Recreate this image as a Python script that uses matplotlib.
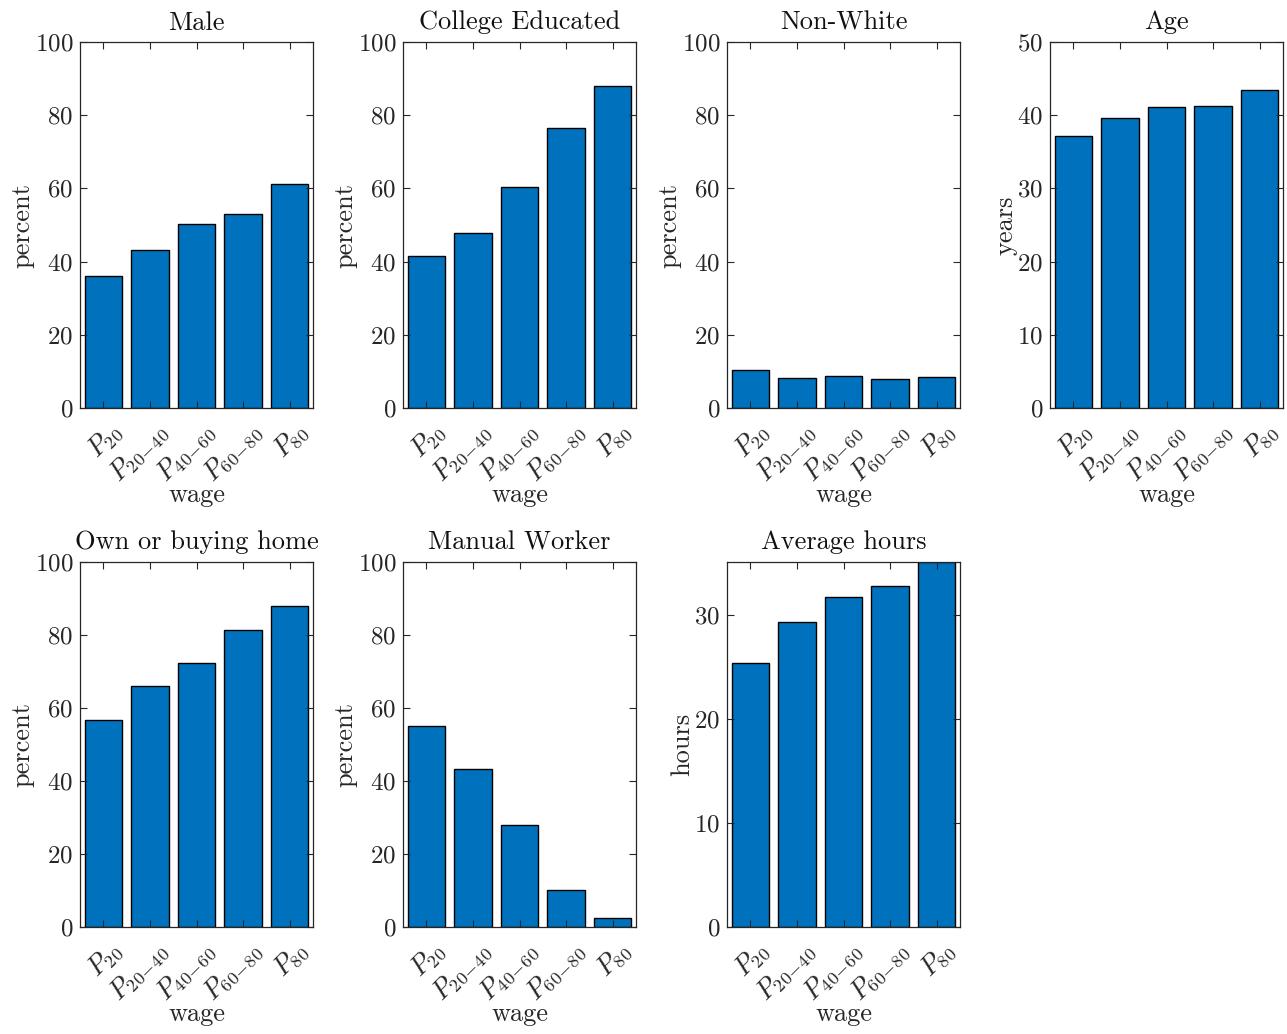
import matplotlib
matplotlib.use("Agg")
import matplotlib.pyplot as plt
import matplotlib.transforms as mtransforms
import numpy as np

plt.rcParams['font.family'] = 'serif'
plt.rcParams['font.serif'] = ['cmr10']
plt.rcParams['mathtext.fontset'] = 'cm'
plt.rcParams['axes.formatter.use_mathtext'] = True

# dados
groups = ['$P_{20}$', '$P_{20\\!-\\!40}$', '$P_{40\\!-\\!60}$', '$P_{60\\!-\\!80}$', '$P_{80}$']
male = [36.1, 43.3, 50.2, 52.9, 61.2]
college = [41.6, 47.8, 60.5, 76.5, 88.1]
nonwhite = [10.5, 8.2, 8.8, 7.8, 8.4]
age = [37.1, 39.6, 41.1, 41.2, 43.5]
home = [56.7, 66.0, 72.4, 81.4, 88.0]
manual = [55.1, 43.3, 28.0, 10.2, 2.4]
hours = [25.4, 29.3, 31.7, 32.8, 35.1]

panels = [
    ('Male', male, 'percent', (0, 100), [0, 20, 40, 60, 80, 100]),
    ('College Educated', college, 'percent', (0, 100), [0, 20, 40, 60, 80, 100]),
    ('Non-White', nonwhite, 'percent', (0, 100), [0, 20, 40, 60, 80, 100]),
    ('Age', age, 'years', (0, 50), [0, 10, 20, 30, 40, 50]),
    ('Own or buying home', home, 'percent', (0, 100), [0, 20, 40, 60, 80, 100]),
    ('Manual Worker', manual, 'percent', (0, 100), [0, 20, 40, 60, 80, 100]),
    ('Average hours', hours, 'hours', (0, max(hours)), [0, 10, 20, 30]),
]

W, H = 1287, 1034
fig = plt.figure(figsize=(W / 100, H / 100), dpi=100)

lefts = [80, 403, 727, 1050]
rows = [(42, 408), (562, 927)]
x = np.arange(1, len(groups) + 1)
# deslocamento dos rótulos rotacionados (estilo MATLAB)
shift = mtransforms.ScaledTranslation(14 / 100, -20 / 100, fig.dpi_scale_trans)

for i, (title, vals, ylab, ylim, yticks) in enumerate(panels):
    r, c = divmod(i, 4)
    top, bot = rows[r]
    ax = fig.add_axes([lefts[c] / W, (H - bot) / H, 233 / W, (bot - top) / H])
    ax.bar(x, vals, width=0.8, color='#0072BD', edgecolor='black', linewidth=1.0, zorder=1)
    ax.set_xlim(0.5, 5.5)
    ax.set_ylim(*ylim)
    ax.set_yticks(yticks)
    ax.set_xticks(x)
    ax.set_xticklabels([])
    tr = ax.get_xaxis_transform() + shift
    for xi, g in zip(x, groups):
        ax.text(xi, 0, g, transform=tr, rotation=45, ha='right', va='center',
                rotation_mode='anchor', fontsize=19, color='#262626')
    ax.tick_params(axis='both', direction='in', top=True, right=True, length=5,
                   color='#262626', labelsize=18, width=0.8, labelcolor='#262626')
    ax.tick_params(axis='y', pad=5)
    for s in ax.spines.values():
        s.set_color('#262626')
        s.set_linewidth(0.9)
        s.set_zorder(3)
    ax.set_title(title, fontsize=19, pad=9, color='#111111')
    ax.set_ylabel(ylab, fontsize=19, labelpad=0, color='#262626')
    ax.set_xlabel('wage', fontsize=19, labelpad=51, color='#262626')

fig.savefig('out.png', dpi=100)
